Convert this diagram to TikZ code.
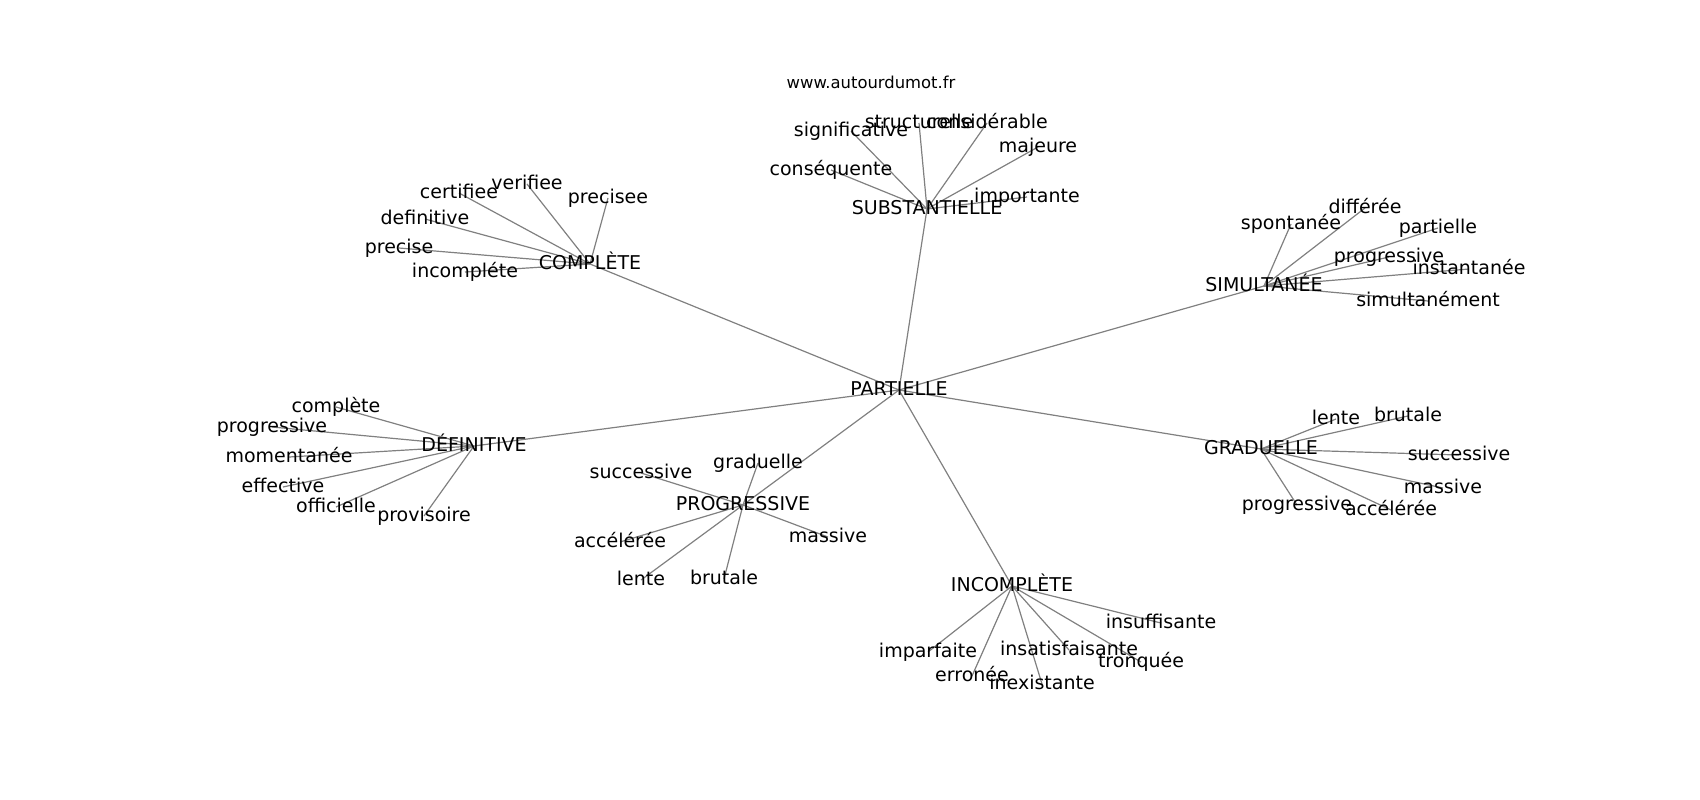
\documentclass[tikz,border=0pt]{standalone}
\usepackage{fontspec}
\setmainfont{DejaVu Sans}
\usetikzlibrary{backgrounds}
\begin{document}
\begin{tikzpicture}[x=1pt,y=-1pt]
\tikzstyle{word}=[inner sep=0pt,text height=1.38em,text depth=0.24em,font=\fontsize{19}{22}\selectfont]
\tikzstyle{site}=[inner sep=0pt,text height=1.3em,text depth=0.24em,font=\fontsize{16.4}{19}\selectfont]
\tikzstyle{link}=[draw=gray,line width=1.2pt]
\useasboundingbox (0,0) rectangle (1700,800);
\node [site] (url) at (871,83) {www.autourdumot.fr};
\node [word] (partielle) at (899,390) {PARTIELLE};
\node [word] (substantielle) at (927,209) {SUBSTANTIELLE};
\node [word] (complete) at (590,264) {COMPLÈTE};
\node [word] (simultanee) at (1264,286) {SIMULTANÉE};
\node [word] (definitive) at (474,446) {DÉFINITIVE};
\node [word] (progressive) at (743,505) {PROGRESSIVE};
\node [word] (incomplete) at (1012,586) {INCOMPLÈTE};
\node [word] (graduelle) at (1261,449) {GRADUELLE};
\node [word] (sub-significative) at (851,131) {significative};
\node [word] (sub-structurelle) at (919,123) {structurelle};
\node [word] (sub-considerable) at (987,123) {considérable};
\node [word] (sub-majeure) at (1038,147) {majeure};
\node [word] (sub-consequente) at (831,170) {conséquente};
\node [word] (sub-importante) at (1027,197) {importante};
\node [word] (com-certifiee) at (459,193) {certifiee};
\node [word] (com-verifiee) at (527,184) {verifiee};
\node [word] (com-precisee) at (608,198) {precisee};
\node [word] (com-definitive) at (425,219) {definitive};
\node [word] (com-precise) at (399,248) {precise};
\node [word] (com-incomplete) at (465,272) {incompléte};
\node [word] (sim-spontanee) at (1291,224) {spontanée};
\node [word] (sim-differee) at (1365,208) {différée};
\node [word] (sim-partielle) at (1438,228) {partielle};
\node [word] (sim-progressive) at (1389,257) {progressive};
\node [word] (sim-instantanee) at (1469,269) {instantanée};
\node [word] (sim-simultanement) at (1428,301) {simultanément};
\node [word] (def-complete) at (336,407) {complète};
\node [word] (def-progressive) at (272,427) {progressive};
\node [word] (def-momentanee) at (289,457) {momentanée};
\node [word] (def-effective) at (283,487) {effective};
\node [word] (def-officielle) at (336,507) {officielle};
\node [word] (def-provisoire) at (424,516) {provisoire};
\node [word] (pro-graduelle) at (758,463) {graduelle};
\node [word] (pro-successive) at (641,473) {successive};
\node [word] (pro-acceleree) at (620,542) {accélérée};
\node [word] (pro-massive) at (828,537) {massive};
\node [word] (pro-lente) at (641,580) {lente};
\node [word] (pro-brutale) at (724,579) {brutale};
\node [word] (inc-imparfaite) at (928,652) {imparfaite};
\node [word] (inc-erronee) at (972,676) {erronée};
\node [word] (inc-inexistante) at (1042,684) {inexistante};
\node [word] (inc-insatisfaisante) at (1069,650) {insatisfaisante};
\node [word] (inc-tronquee) at (1141,662) {tronquée};
\node [word] (inc-insuffisante) at (1161,623) {insuffisante};
\node [word] (gra-lente) at (1336,419) {lente};
\node [word] (gra-brutale) at (1408,416) {brutale};
\node [word] (gra-successive) at (1459,455) {successive};
\node [word] (gra-massive) at (1443,488) {massive};
\node [word] (gra-progressive) at (1297,505) {progressive};
\node [word] (gra-acceleree) at (1391,510) {accélérée};
\begin{scope}[on background layer]
\foreach \h in {substantielle,complete,simultanee,definitive,progressive,incomplete,graduelle}
  \draw [link] (partielle.center) -- (\h.center);
\foreach \l in {significative,structurelle,considerable,majeure,consequente,importante}
  \draw [link] (substantielle.center) -- (sub-\l.center);
\foreach \l in {certifiee,verifiee,precisee,definitive,precise,incomplete}
  \draw [link] (complete.center) -- (com-\l.center);
\foreach \l in {spontanee,differee,partielle,progressive,instantanee,simultanement}
  \draw [link] (simultanee.center) -- (sim-\l.center);
\foreach \l in {complete,progressive,momentanee,effective,officielle,provisoire}
  \draw [link] (definitive.center) -- (def-\l.center);
\foreach \l in {graduelle,successive,acceleree,massive,lente,brutale}
  \draw [link] (progressive.center) -- (pro-\l.center);
\foreach \l in {imparfaite,erronee,inexistante,insatisfaisante,tronquee,insuffisante}
  \draw [link] (incomplete.center) -- (inc-\l.center);
\foreach \l in {lente,brutale,successive,massive,progressive,acceleree}
  \draw [link] (graduelle.center) -- (gra-\l.center);
\end{scope}
\end{tikzpicture}
\end{document}
